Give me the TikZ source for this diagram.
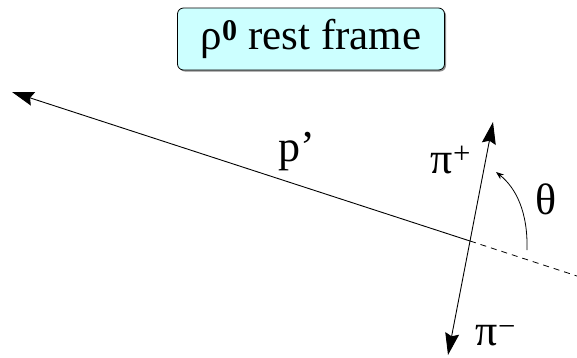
\documentclass[tikz,border=0pt]{standalone}
\usepackage{fontspec}
\setmainfont{Liberation Serif}
\usetikzlibrary{arrows.meta,shadows}
\definecolor{paleaqua}{HTML}{CCFFFF}
\definecolor{shade}{HTML}{8C8C8C}
\begin{document}
\begin{tikzpicture}[
 x=1pt,y=-1pt,
 frame/.style={draw=black,line width=0.8pt,rounded corners=6pt,fill=paleaqua,minimum width=267pt,minimum height=62pt,inner sep=0pt,font=\fontsize{43}{46}\selectfont,drop shadow={shadow xshift=1.5pt,shadow yshift=-1.5pt,fill=shade,opacity=1}},
 lbl/.style={inner sep=0pt,font=\fontsize{44}{46}\selectfont},
 arr/.style={-{Stealth[length=22pt,width=14pt,inset=3pt]},line width=0.9pt},
 dbl/.style={{Stealth[length=22pt,width=14pt,inset=3pt]}-{Stealth[length=22pt,width=14pt,inset=3pt]},line width=0.9pt},
 dashline/.style={line width=0.8pt,dash pattern=on 6pt off 5pt},
 anglearr/.style={-{Stealth[length=8pt,width=6pt]},line width=0.8pt}
]
\useasboundingbox (0,0) rectangle (577,357);
\node[frame] (rest) at (311,39) {ρ\textsuperscript{\textbf{0}} rest frame};
\coordinate (o) at (470,241);
\coordinate (ptip) at (12,92);
\coordinate (dend) at (577,276);
\coordinate (piptop) at (493,122);
\coordinate (pimbot) at (448,355);
\coordinate (arcs) at (527,250);
\coordinate (arce) at (496,172);
\draw[arr] (o) -- (ptip);
\draw[dashline] (o) -- (dend);
\draw[dbl] (pimbot) -- (piptop);
\draw[anglearr] (arcs) .. controls (528,212) and (516,188) .. (arce);
\node[lbl] (pprime) at (297,152) {p’};
\node[lbl] (piplus) at (451,160) {π\textsuperscript{+}};
\node[lbl] (piminus) at (496,336) {π\textsuperscript{−}};
\node[lbl] (theta) at (546,199) {θ};
\end{tikzpicture}
\end{document}
